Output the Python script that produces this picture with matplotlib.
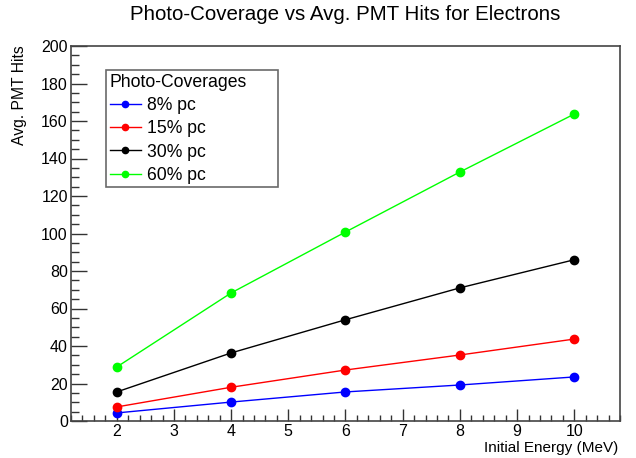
import matplotlib
matplotlib.use("Agg")
import matplotlib.pyplot as plt
from matplotlib.ticker import MultipleLocator

plt.rcParams['font.family'] = ['Liberation Sans', 'DejaVu Sans']

energy = [2, 4, 6, 8, 10]
pc8 = [4.3, 10.1, 15.5, 19.2, 23.5]
pc15 = [7.5, 18.0, 27.2, 35.2, 43.7]
pc30 = [15.5, 36.3, 54.0, 71.0, 86.0]
pc60 = [28.8, 68.3, 100.8, 132.8, 163.7]
labels = ["8% pc", "15% pc", "30% pc", "60% pc"]
colors = ["#0000ff", "#ff0000", "#000000", "#00ff00"]

W, H = 636, 458
L, R, T, B = 71, 620, 46, 421
fig = plt.figure(figsize=(W/100, H/100), dpi=100)
ax = fig.add_axes([L/W, 1-B/H, (R-L)/W, (B-T)/H])

for ys, lab, c in zip([pc8, pc15, pc30, pc60], labels, colors):
    ax.plot(energy, ys, color=c, lw=1, marker='o', ms=6, label=lab)

ax.set_xlim(1.2, 10.8)
ax.set_ylim(0, 200)
ax.xaxis.set_minor_locator(MultipleLocator(0.2))
ax.yaxis.set_major_locator(MultipleLocator(20))
ax.yaxis.set_minor_locator(MultipleLocator(5))
ax.set_xticks([2, 3, 4, 5, 6, 7, 8, 9, 10])
ax.tick_params(which='both', direction='in', top=False, right=False, labelsize=11.5, width=1, color='#333333')
ax.tick_params(axis='y', which='major', length=11.5, pad=2.3)
ax.tick_params(axis='y', which='minor', length=5.8)
ax.tick_params(axis='x', which='major', length=8.6, pad=2.5)
ax.tick_params(axis='x', which='minor', length=4.3)
for s in ax.spines.values():
    s.set_color('#444444')
    s.set_linewidth(1.2)

ax.set_xlabel("Initial Energy (MeV)", fontsize=11, ha='right', va='center')
ax.xaxis.set_label_coords((618-L)/(R-L), (B-448)/(B-T))
ax.set_ylabel("Avg. PMT Hits", fontsize=11.3, ha='right', va='center')
ax.yaxis.set_label_coords((20-L)/(R-L), (B-45)/(B-T))
fig.text(345/W, 1-15/H, "Photo-Coverage vs Avg. PMT Hits for Electrons", ha='center', va='center', fontsize=14.8)

lx0, lx1, ly0, ly1 = 106, 278, 70, 187
leg = ax.legend(loc='upper left',
                bbox_to_anchor=((lx0-L)/(R-L), (B-ly1)/(B-T), (lx1-lx0)/(R-L), (ly1-ly0)/(B-T)),
                mode='expand', title="Photo-Coverages",
                fontsize=12.7, title_fontsize=12.7, frameon=True, fancybox=False, edgecolor='#444444',
                handlelength=1.8, handletextpad=0.3, borderpad=0.2, borderaxespad=0,
                labelspacing=0.36, markerscale=0.75)
leg._legend_box.align = "left"
leg.get_frame().set_linewidth(1.2)

fig.savefig("out.png", dpi=100)
